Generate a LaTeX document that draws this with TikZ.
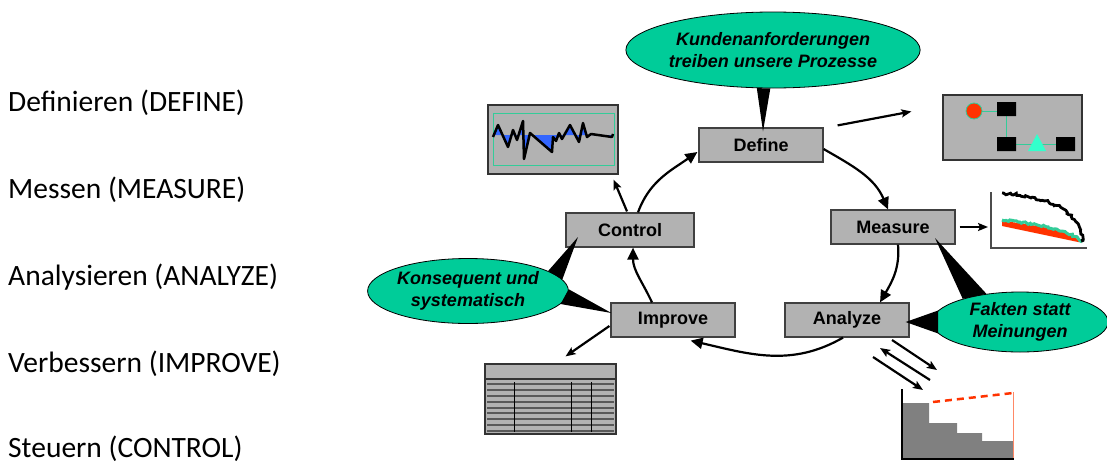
\documentclass[tikz,border=0pt]{standalone}
\usepackage{fontspec}
\setmainfont{Liberation Sans}
\newfontfamily\calibrifont{Carlito}
\usepackage{tikz}
\usetikzlibrary{shapes.geometric, arrows.meta, calc, decorations.pathmorphing}

\definecolor{boxgray}{HTML}{B2B2B2}
\definecolor{bubblegreen}{HTML}{00CC99}
\definecolor{chartblue}{HTML}{3366FF}
\definecolor{chartred}{HTML}{FF3300}
\definecolor{charttea}{HTML}{33CC99}
\definecolor{trianglecyan}{HTML}{33FFCC}
\definecolor{stairgray}{HTML}{808080}
\definecolor{salmon}{HTML}{FF8866}

\begin{document}
\begin{tikzpicture}[x=1pt, y=1pt,
    phasebox/.style={draw=black!75, fill=boxgray, line width=1.2pt, minimum width=124pt, minimum height=34pt, inner sep=0, font=\bfseries\fontsize{18}{20}\selectfont},
    bubble/.style={ellipse, draw=black, line width=0.8pt, fill=bubblegreen, inner sep=0, align=center, font=\bfseries\itshape\fontsize{18}{22}\selectfont},
    wedge/.style={fill=black},
    cyclearrow/.style={line width=2.2pt, -{Triangle[length=12pt, width=11pt]}},
    sidearrow/.style={line width=2.2pt, -{Stealth[length=10pt, width=8pt, inset=2pt]}},
    phasetext/.style={anchor=west, inner sep=0, font=\calibrifont\fontsize{29.5}{32}\selectfont},
    picbox/.style={draw=black!80, fill=boxgray, line width=1.2pt, inner sep=0}]
  \useasboundingbox (0,0) rectangle (1107,-463);

  % phase list
  \foreach \txt/\yy [count=\i] in {Definieren (DEFINE)/103, Messen (MEASURE)/190, Analysieren (ANALYZE)/277, Verbessern (IMPROVE)/364, Steuern (CONTROL)/449}
    \node[phasetext] (phase\i) at (8,-\yy) {\txt};

  % cycle boxes
  \node[phasebox] (define) at (761,-145) {Define};
  \node[phasebox] (measure) at (893,-227) {Measure};
  \node[phasebox] (analyze) at (847,-320) {Analyze};
  \node[phasebox] (improve) at (673,-320) {Improve};
  \node[phasebox, minimum width=128pt] (control) at (630,-230) {Control};

  % callouts
  \node[bubble, minimum width=272pt, minimum height=76pt] (kunden) at (773,-50) {Kundenanforderungen\\treiben unsere Prozesse};
  \node[bubble, minimum width=196pt, minimum height=65pt] (konsequent) at (468,-291) {Konsequent und\\systematisch};
  \node[bubble, minimum width=176pt, minimum height=60pt] (fakten) at (1020,-322) {Fakten statt\\Meinungen};
  \fill[wedge] (kunden.247) -- (kunden.266) -- ($(define.north)+(2,-4)$) -- cycle;
  \fill[wedge] (konsequent.7) -- (konsequent.14) -- ($(control.center)+(-52,-7)$) -- cycle;
  \fill[wedge] (konsequent.-8) -- (konsequent.1) -- ($(improve.west)+(1,7)$) -- cycle;
  \fill[wedge] (fakten.140) -- (fakten.158) -- ($(measure.center)+(42,-11)$) -- cycle;
  \fill[wedge] (fakten.172) -- (fakten.188) -- ($(analyze.east)+(-4,-2)$) -- cycle;

  % the cycle
  \draw[cyclearrow] ($(define.east)+(0,-4)$) to[out=-30, in=113] ($(measure.north)+(-5,0)$);
  \draw[cyclearrow] ($(measure.south)+(5,0)$) to[out=-85, in=60] ($(analyze.north)+(33,0)$);
  \draw[cyclearrow] ($(analyze.south)+(-4,0)$) to[out=-150, in=-13] ($(improve.south east)+(-45,-3)$);
  \draw[cyclearrow] ($(improve.north)+(-21,0)$) to[out=115, in=-90] ($(control.south)+(3,0)$);
  \draw[cyclearrow] ($(control.north)+(8,0)$) to[out=70, in=-145] ($(define.west)+(-1,-7)$);

  % control chart
  \node[picbox, minimum width=130pt, minimum height=69pt] (ctrlchart) at (553,-139.5) {};
  \draw[charttea, line width=1pt] (493,-113) rectangle (614,-165);
  \def\ctrltrace{(493,-137) -- (498,-125) -- (508,-147) -- (513,-130) -- (517,-140) -- (523,-121) -- (524,-159) -- (530,-133) -- (552,-152) -- (553,-137) -- (556,-141) -- (559,-133) -- (562,-139) -- (570,-125) -- (579,-142) -- (583,-123) -- (587,-137) -- (591,-134) -- (612,-137) -- (613,-134)}
  \fill[chartblue] (493,-135) -- \ctrltrace -- (613,-135) -- cycle;
  \draw[line width=2.5pt, line join=round] \ctrltrace;

  % define diagram
  \node[picbox, minimum width=139pt, minimum height=65pt] (defdiag) at (1012.5,-127.5) {};
  \draw[charttea, line width=1pt] (982,-111) -- (997,-111) (1006.5,-116) -- (1006.5,-137) (1016,-144) -- (1056,-144);
  \fill (997,-102) rectangle (1016,-116) (997,-137) rectangle (1016,-151) (1056,-137) rectangle (1075,-151);
  \filldraw[fill=chartred, draw=charttea, line width=0.8pt] (974,-111) circle (8);
  \fill[trianglecyan] (1037,-134) -- (1028,-151) -- (1046,-151) -- cycle;

  % measure chart
  \coordinate (mchart) at (988,-227);
  \draw[black!70, line width=1.2pt] (991,-192) -- (991,-248) -- (1087,-248);
  \fill[chartred] (1002,-221) .. controls (1040,-225) and (1072,-232) .. (1081,-242) -- (1078,-242) -- (1002,-226) -- cycle;
  \pgfmathsetseed{42}
  \draw[charttea, line width=3pt, decorate, decoration={random steps, segment length=2pt, amplitude=1pt}] (1002,-220) .. controls (1040,-224) and (1072,-231) .. (1082,-242);
  \draw[line width=2.8pt, decorate, decoration={random steps, segment length=2pt, amplitude=1.4pt}] (1002,-193) .. controls (1040,-197) and (1080,-205) .. (1083,-242);

  % table
  \node[picbox, minimum width=131pt, minimum height=70pt] (tabl) at (550.5,-399) {};
  \draw[black!80, line width=1.2pt] (485,-379) -- (616,-379);
  \foreach \yy in {384,390,396,402,408,413,419,425,431}
    \draw[black!65, line width=1.2pt] (487,-\yy) -- (614,-\yy);
  \foreach \xx in {514,571,591}
    \draw[line width=0.8pt] (\xx,-382) -- (\xx,-432);

  % staircase chart
  \fill[stairgray] (902,-459) -- (902,-403) -- (929,-403) -- (929,-423) -- (957,-423) -- (957,-433) -- (982,-433) -- (982,-441) -- (1013,-441) -- (1013,-459) -- cycle;
  \draw[salmon, line width=1pt] (1013,-392) -- (1013,-459);
  \draw[line width=1.2pt] (902,-389) -- (902,-459) -- (1014,-459);
  \draw[chartred, line width=2.5pt, dash pattern=on 7pt off 5pt] (933,-402) -- (1013,-393);

  % side arrows
  \draw[sidearrow] ($(define.north east)+(14,2)$) -- ($(defdiag.west)+(-31,16)$);
  \draw[sidearrow] ($(control.north)+(-3,1)$) -- ($(ctrlchart.south east)+(-5,-5)$);
  \draw[sidearrow] ($(measure.east)+(4,0)$) -- (mchart);
  \draw[sidearrow] ($(improve.west)+(-1,-6)$) -- ($(tabl.north)+(15,7)$);
  \foreach \xa/\ya/\xb/\yb [count=\i] in {892/340/937/370, 930/380/880/348, 873/357/923/390} {
    \coordinate (flow\i a) at (\xa,-\ya);
    \coordinate (flow\i b) at (\xb,-\yb);
    \draw[sidearrow] (flow\i a) -- (flow\i b);
  }
\end{tikzpicture}
\end{document}
